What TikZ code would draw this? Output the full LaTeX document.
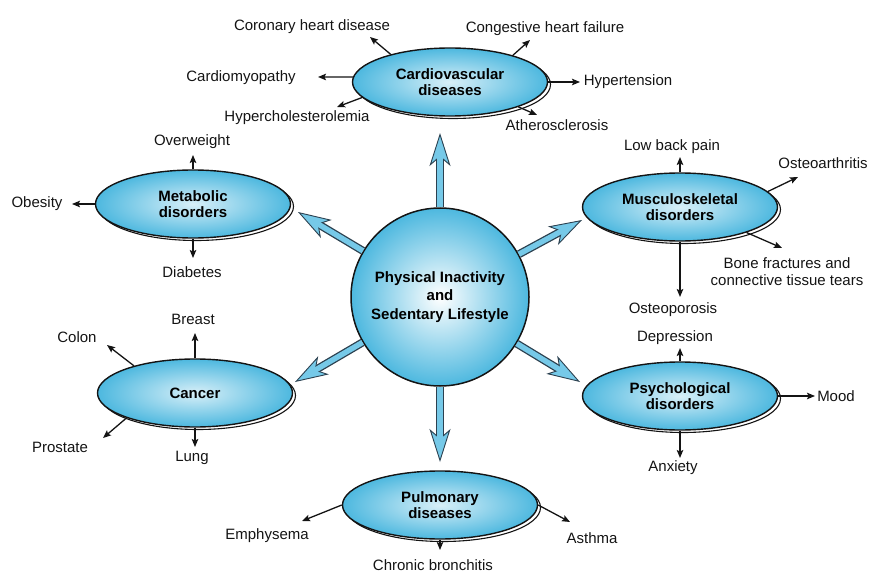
\documentclass[tikz,border=0pt]{standalone}
\usepackage{fontspec}
\setmainfont{Liberation Sans}
\usepackage{tikz}
\usetikzlibrary{arrows.meta,shapes.geometric}
\definecolor{sky}{HTML}{4DB8DF}
\definecolor{skyarr}{HTML}{76C9E8}
\definecolor{rim}{HTML}{2C4150}
\definecolor{ink}{HTML}{141414}
\tikzset{
  blob/.style={ellipse,draw=ink,line width=1.4pt,minimum width=195pt,minimum height=68pt,inner sep=0pt,
    inner color=sky!22,outer color=sky,font=\fontsize{15}{16.5}\selectfont\bfseries,align=center,
    preaction={draw=ink,fill=white,line width=1.1pt,transform canvas={shift={(3pt,-2.5pt)}}}},
  core/.style={circle,draw=ink,line width=1.5pt,minimum size=178pt,inner sep=0pt,
    inner color=white,outer color=sky,font=\fontsize{15}{18.5}\selectfont\bfseries,align=center},
  lbl/.style={font=\fontsize{15}{17}\selectfont,text=ink,align=center,inner sep=1pt},
  sarr/.style={draw=ink,line width=1.3pt,-{Stealth[length=8pt,width=6.5pt,inset=1.5pt]}},
  fat/.style={draw=rim,line width=8pt,-{Stealth[length=33pt,width=21pt,inset=9pt,fill=skyarr,line width=0.9pt]},
    postaction={draw=skyarr,line width=5.4pt,-,shorten >=22pt}},
}
\begin{document}
\begin{tikzpicture}[x=1pt,y=-1pt]
\useasboundingbox (0,0) rectangle (872,572);
% hub and the six groups
\node[core] (hub) at (440,297) {Physical Inactivity\\and\\Sedentary Lifestyle};
\node[blob] (cv) at (450,82) {Cardiovascular\\diseases};
\node[blob] (md) at (193,204) {Metabolic\\disorders};
\node[blob] (can) at (195,393) {Cancer};
\node[blob] (msk) at (680,207) {Musculoskeletal\\disorders};
\node[blob] (psy) at (680,396) {Psychological\\disorders};
\node[blob] (pul) at (440,505) {Pulmonary\\diseases};

\coordinate (tU) at (440,133);
\coordinate (tUL) at (298,212);
\coordinate (tUR) at (582,220);
\coordinate (tDL) at (295,382);
\coordinate (tDR) at (580,382);
\coordinate (tD) at (440,462);
\draw[fat] (hub) -- (tU);
\draw[fat] (hub) -- (tUL);
\draw[fat] (hub) -- (tUR);
\draw[fat] (hub) -- (tDL);
\draw[fat] (hub) -- (tDR);
\draw[fat] (hub) -- (tD);

% cardiovascular
\node[lbl] (chd) at (312,27) {Coronary heart disease};
\node[lbl] (chf) at (545,29) {Congestive heart failure};
\node[lbl] (cmp) at (241,78) {Cardiomyopathy};
\node[lbl] (hyp) at (628,82) {Hypertension};
\node[lbl] (hch) at (297,118) {Hypercholesterolemia};
\node[lbl] (ath) at (557,125) {Atherosclerosis};
\coordinate (chd-t) at (370,37);
\coordinate (chf-t) at (530,40);
\coordinate (cmp-t) at (318,77);
\coordinate (hyp-t) at (580,82);
\coordinate (hch-t) at (337,107);
\coordinate (ath-t) at (537,115);
\draw[sarr] (cv.155) -- (chd-t);
\draw[sarr] (cv.23) -- (chf-t);
\draw[sarr] (cv.177) -- (cmp-t);
\draw[sarr] (cv.east) -- (hyp-t);
\draw[sarr] (cv.190) -- (hch-t);
\draw[sarr] (cv.340) -- (ath-t);

% metabolic
\node[lbl] (ow) at (192,142) {Overweight};
\node[lbl] (ob) at (37,204) {Obesity};
\node[lbl] (dia) at (192,272) {Diabetes};
\coordinate (ow-t) at (193,155);
\coordinate (ob-t) at (72,204);
\coordinate (dia-t) at (193,258);
\draw[sarr] (md.north) -- (ow-t);
\draw[sarr] (md.west) -- (ob-t);
\draw[sarr] (md.south) -- (dia-t);

% cancer
\node[lbl] (br) at (193,319) {Breast};
\node[lbl] (col) at (77,337) {Colon};
\node[lbl] (pro) at (60,447) {Prostate};
\node[lbl] (lung) at (192,458) {Lung};
\coordinate (br-t) at (195,333);
\coordinate (col-t) at (107,345);
\coordinate (pro-t) at (103,438);
\coordinate (lung-t) at (195,447);
\draw[sarr] (can.north) -- (br-t);
\draw[sarr] (can.156) -- (col-t);
\draw[sarr] (can.200) -- (pro-t);
\draw[sarr] (can.south) -- (lung-t);

% musculoskeletal
\node[lbl] (lbp) at (672,147) {Low back pain};
\node[lbl] (oa) at (823,163) {Osteoarthritis};
\node[lbl] (bf) at (787,272) {Bone fractures and\\connective tissue tears};
\node[lbl] (op) at (673,310) {Osteoporosis};
\coordinate (lbp-t) at (680,157);
\coordinate (oa-t) at (798,177);
\coordinate (bf-t) at (782,248);
\coordinate (op-t) at (680,297);
\draw[sarr] (msk.north) -- (lbp-t);
\draw[sarr] (msk.10) -- (oa-t);
\draw[sarr] (msk.339) -- (bf-t);
\draw[sarr] (msk.south) -- (op-t);

% psychological
\node[lbl] (dep) at (675,338) {Depression};
\node[lbl] (mood) at (836,396) {Mood};
\node[lbl] (anx) at (673,468) {Anxiety};
\coordinate (dep-t) at (680,348);
\coordinate (mood-t) at (815,396);
\coordinate (anx-t) at (680,458);
\draw[sarr] (psy.north) -- (dep-t);
\draw[sarr] (psy.east) -- (mood-t);
\draw[sarr] (psy.south) -- (anx-t);

% pulmonary
\node[lbl] (emp) at (267,536) {Emphysema};
\node[lbl] (cb) at (433,565) {Chronic bronchitis};
\node[lbl] (ast) at (592,538) {Asthma};
\coordinate (emp-t) at (302,521);
\coordinate (cb-t) at (440,550);
\coordinate (ast-t) at (570,522);
\draw[sarr] (pul.west) -- (emp-t);
\draw[sarr] (pul.south) -- (cb-t);
\draw[sarr] (pul.east) -- (ast-t);
\end{tikzpicture}
\end{document}
